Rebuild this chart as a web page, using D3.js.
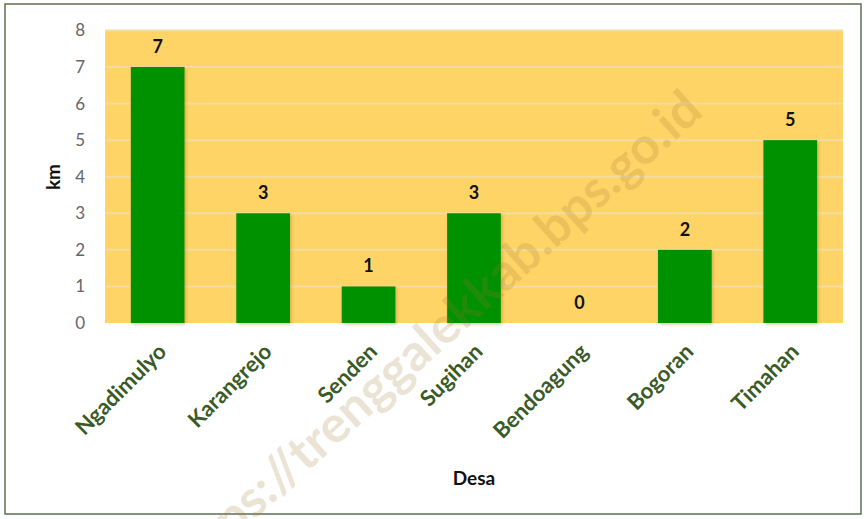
<!DOCTYPE html>
<html><head><meta charset="utf-8">
<script src="https://cdn.jsdelivr.net/npm/d3@7"></script>
<style>body{margin:0;background:#fff}svg{display:block}</style>
</head><body>
<svg id="c" width="867" height="519"></svg>
<script>
const categories = ["Ngadimulyo","Karangrejo","Senden","Sugihan","Bendoagung","Bogoran","Timahan"];
const values = [7,3,1,3,0,2,5];
const yTicks = [0,1,2,3,4,5,6,7,8];
const yTitle = "km";
const xTitle = "Desa";
const watermark = "https://trenggalekkab.bps.go.id";

const svg = d3.select("#c");
const font = "Lato, 'Open Sans', sans-serif";
const m = {l:105, r:843, t:30.4, b:323};

svg.append("rect").attr("x",5).attr("y",4).attr("width",856).attr("height",510)
  .attr("fill","#fff").attr("stroke","#5d7050").attr("stroke-width",1.5);

const x = d3.scaleBand().domain(categories).range([m.l,m.r]).paddingInner(0.49).paddingOuter(0.245);
const y = d3.scaleLinear().domain([0,8]).range([m.b,m.t]);

svg.append("rect").attr("x",m.l).attr("y",m.t).attr("width",m.r-m.l).attr("height",m.b-m.t).attr("fill","#fed467");

// grid
svg.append("g").selectAll("line").data(yTicks.slice(1)).join("line")
  .attr("x1",m.l).attr("x2",m.r).attr("y1",d=>y(d)).attr("y2",d=>y(d))
  .attr("stroke","#f3dca0").attr("stroke-width",2);

// y axis
const ya = svg.append("g").attr("transform",`translate(${m.l},0)`)
  .call(d3.axisLeft(y).tickValues(yTicks).tickSize(0).tickPadding(20));
ya.select(".domain").remove();
ya.selectAll("text").attr("font-family",font).attr("font-size",17).attr("fill","#666");

// shadows and bars
const defs = svg.append("defs");
const f = defs.append("filter").attr("id","sh").attr("x","-20%").attr("y","-20%").attr("width","140%").attr("height","140%");
f.append("feDropShadow").attr("dx",1.5).attr("dy",1.5).attr("stdDeviation",1.5).attr("flood-color","#8a6a20").attr("flood-opacity",0.35);

svg.append("g").selectAll("rect").data(categories).join("rect")
  .attr("x",d=>x(d)).attr("width",x.bandwidth())
  .attr("y",(d,i)=>y(values[i])).attr("height",(d,i)=>y(0)-y(values[i]))
  .attr("fill","#009100").attr("filter","url(#sh)");

// value labels
svg.append("g").selectAll("text").data(categories).join("text")
  .attr("x",d=>x(d)+x.bandwidth()/2).attr("y",(d,i)=>y(values[i])-14)
  .attr("text-anchor","middle").attr("font-family",font).attr("font-weight","bold")
  .attr("font-size",18).attr("fill","#111").text((d,i)=>values[i]);

// x labels
const xa = svg.append("g").attr("transform",`translate(0,${m.b})`)
  .call(d3.axisBottom(x).tickSize(0).tickPadding(0));
xa.select(".domain").remove();
xa.selectAll("text").attr("font-family",font).attr("font-weight","bold").attr("font-size",22)
  .attr("fill","#3a5a26").attr("text-anchor","end").attr("dy",0)
  .attr("transform","translate(10,30) rotate(-45)");

// axis titles
svg.append("text").attr("transform",`translate(60,177) rotate(-90)`).attr("text-anchor","middle")
  .attr("font-family",font).attr("font-weight","bold").attr("font-size",19).attr("fill","#111").text(yTitle);
svg.append("text").attr("x",474).attr("y",485).attr("text-anchor","middle")
  .attr("font-family",font).attr("font-weight","bold").attr("font-size",19).attr("fill","#111").text(xTitle);

// watermark
svg.append("text").attr("transform","translate(705,114) rotate(-42)").attr("text-anchor","end")
  .attr("font-family",font).attr("font-weight","bold").attr("font-size",51)
  .attr("fill","#a07830").attr("opacity",0.2).text(watermark);
</script>
</body></html>
